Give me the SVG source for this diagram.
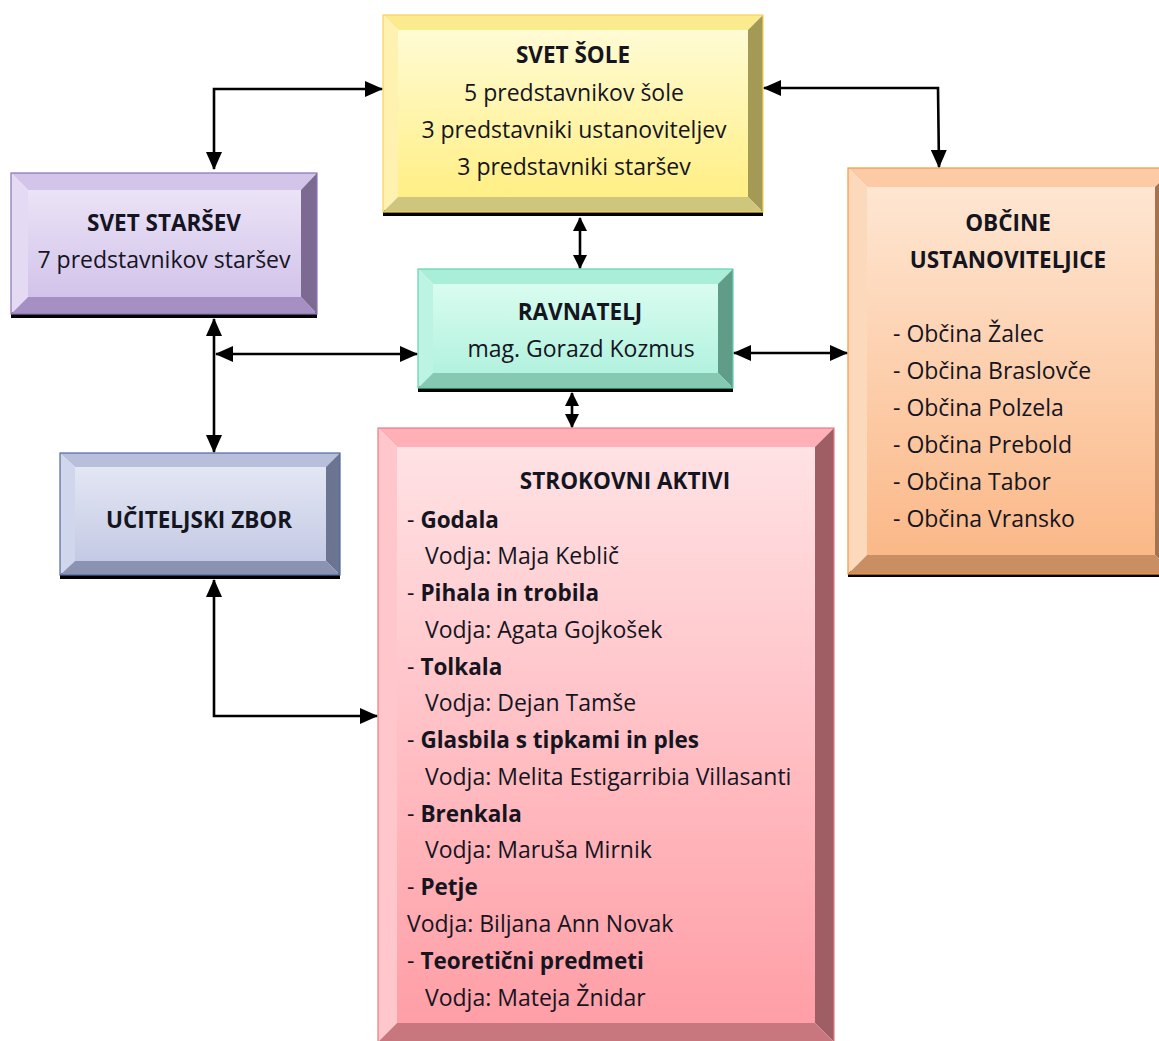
<svg xmlns="http://www.w3.org/2000/svg" width="1159" height="1041" viewBox="0 0 1159 1041">
<defs>
<style>
text{font-family:"Open Sans","Noto Sans",sans-serif;font-size:23px;fill:#15151f}
.b{font-weight:bold;font-size:22.5px}
.c{text-anchor:middle}
.conn{fill:none;stroke:#000;stroke-width:2.6}
.bar{fill:#000}
</style>
<marker id="ah" markerUnits="userSpaceOnUse" markerWidth="18" markerHeight="16" refX="17" refY="8" orient="auto-start-reverse" viewBox="0 0 18 16">
<path d="M0,0 L18,8 L0,16 Z" fill="#000"/>
</marker>
<marker id="as" markerUnits="userSpaceOnUse" markerWidth="14" markerHeight="14" refX="13" refY="7" orient="auto-start-reverse" viewBox="0 0 14 14">
<path d="M0,0 L14,7 L0,14 Z" fill="#000"/>
</marker>
<linearGradient id="gY" x1="0" y1="0" x2="0" y2="1"><stop offset="0" stop-color="#fffbd4"/><stop offset="1" stop-color="#ffef85"/></linearGradient>
<linearGradient id="gP" x1="0" y1="0" x2="0" y2="1"><stop offset="0" stop-color="#ebe3f6"/><stop offset="1" stop-color="#d2c3ea"/></linearGradient>
<linearGradient id="gO" x1="0" y1="0" x2="0" y2="1"><stop offset="0" stop-color="#fee6d2"/><stop offset="1" stop-color="#fbb888"/></linearGradient>
<linearGradient id="gT" x1="0" y1="0" x2="0" y2="1"><stop offset="0" stop-color="#d9fcf0"/><stop offset="1" stop-color="#b2f2de"/></linearGradient>
<linearGradient id="gB" x1="0" y1="0" x2="0" y2="1"><stop offset="0" stop-color="#e3e6f3"/><stop offset="1" stop-color="#c4cae4"/></linearGradient>
<linearGradient id="gR" x1="0" y1="0" x2="0" y2="1"><stop offset="0" stop-color="#ffe2e4"/><stop offset="1" stop-color="#ff9ea6"/></linearGradient>
</defs>
<rect width="1159" height="1041" fill="#fff"/>

<g id="svet-sole">
<rect class="bar" x="383" y="210" width="380" height="6"/>
<polygon points="383,15 763,15 748,30 398,30" fill="#fcea8e"/>
<polygon points="383,15 398,30 398,197 383,212" fill="#fff2b0"/>
<polygon points="763,15 748,30 748,197 763,212" fill="#a29a55"/>
<polygon points="383,212 763,212 748,197 398,197" fill="#cdc67c"/>
<rect x="398" y="30" width="350" height="167" fill="url(#gY)"/>
<rect x="383" y="15" width="380" height="197" fill="none" stroke="#f7d25a" stroke-width="1.2"/>
<text class="b c" x="573" y="63">SVET ŠOLE</text>
<text class="c" x="574" y="101">5 predstavnikov šole</text>
<text class="c" x="574" y="138">3 predstavniki ustanoviteljev</text>
<text class="c" x="574" y="175">3 predstavniki staršev</text>
</g>

<g id="svet-starsev">
<rect class="bar" x="11" y="312" width="306" height="6"/>
<polygon points="11,173 317,173 301,190 28,190" fill="#d3c5ea"/>
<polygon points="11,173 28,190 28,297 11,314" fill="#e4daf3"/>
<polygon points="317,173 301,190 301,297 317,314" fill="#7c6a93"/>
<polygon points="11,314 317,314 301,297 28,297" fill="#a690c3"/>
<rect x="28" y="190" width="273" height="107" fill="url(#gP)"/>
<rect x="11" y="173" width="306" height="141" fill="none" stroke="#8b73b6" stroke-width="1.2"/>
<text class="b c" x="164" y="231">SVET STARŠEV</text>
<text class="c" x="164" y="268">7 predstavnikov staršev</text>
</g>

<g id="obcine">
<rect class="bar" x="848" y="571" width="326" height="6"/>
<polygon points="848,168 1174,168 1155,187 867,187" fill="#fccba5"/>
<polygon points="848,168 867,187 867,555 848,574" fill="#fdd9bb"/>
<polygon points="1174,168 1155,187 1155,555 1174,574" fill="#a5734e"/>
<polygon points="848,574 1174,574 1155,555 867,555" fill="#c98f62"/>
<rect x="867" y="187" width="288" height="368" fill="url(#gO)"/>
<rect x="848" y="168" width="326" height="406" fill="none" stroke="#f79646" stroke-width="1.2"/>
<text class="b c" x="1008" y="231">OBČINE</text>
<text class="b c" x="1008" y="268">USTANOVITELJICE</text>
<text x="893" y="342">- Občina Žalec</text>
<text x="893" y="379">- Občina Braslovče</text>
<text x="893" y="416">- Občina Polzela</text>
<text x="893" y="453">- Občina Prebold</text>
<text x="893" y="490">- Občina Tabor</text>
<text x="893" y="527">- Občina Vransko</text>
</g>

<g id="ravnatelj">
<rect class="bar" x="418" y="386" width="315" height="6"/>
<polygon points="418,269 733,269 718,284 433,284" fill="#a9eed8"/>
<polygon points="418,269 433,284 433,373 418,388" fill="#bcf3e3"/>
<polygon points="733,269 718,284 718,373 733,388" fill="#5f9d89"/>
<polygon points="418,388 733,388 718,373 433,373" fill="#86c9b3"/>
<rect x="433" y="284" width="285" height="89" fill="url(#gT)"/>
<rect x="418" y="269" width="315" height="119" fill="none" stroke="#63d1b0" stroke-width="1.2"/>
<text class="b c" x="580" y="320">RAVNATELJ</text>
<text class="c" x="581" y="357">mag. Gorazd Kozmus</text>
</g>

<g id="uciteljski-zbor">
<rect class="bar" x="60" y="573" width="280" height="6"/>
<polygon points="60,453 340,453 326,467 75,467" fill="#b7bfdb"/>
<polygon points="60,453 75,467 75,561 60,575" fill="#d0d6eb"/>
<polygon points="340,453 326,467 326,561 340,575" fill="#6b7490"/>
<polygon points="60,575 340,575 326,561 75,561" fill="#8a93b1"/>
<rect x="75" y="467" width="251" height="94" fill="url(#gB)"/>
<rect x="60" y="453" width="280" height="122" fill="none" stroke="#4f6aa0" stroke-width="1.2"/>
<text class="b c" x="199" y="528">UČITELJSKI ZBOR</text>
</g>

<g id="strokovni-aktivi">
<polygon points="378,428 834,428 815,447 397,447" fill="#ffb0b6"/>
<polygon points="378,428 397,447 397,1023 378,1042" fill="#ffc7cb"/>
<polygon points="834,428 815,447 815,1023 834,1042" fill="#9f5e64"/>
<polygon points="378,1042 834,1042 815,1023 397,1023" fill="#c8777e"/>
<rect x="397" y="447" width="418" height="576" fill="url(#gR)"/>
<rect x="378" y="428" width="456" height="614" fill="none" stroke="#ea7c85" stroke-width="1.2"/>
<text class="b c" x="625" y="489">STROKOVNI AKTIVI</text>
<text x="407" y="528">- <tspan class="b">Godala</tspan></text>
<text x="425" y="564">Vodja: Maja Keblič</text>
<text x="407" y="601">- <tspan class="b">Pihala in trobila</tspan></text>
<text x="425" y="638">Vodja: Agata Gojkošek</text>
<text x="407" y="675">- <tspan class="b">Tolkala</tspan></text>
<text x="425" y="711">Vodja: Dejan Tamše</text>
<text x="407" y="748">- <tspan class="b">Glasbila s tipkami in ples</tspan></text>
<text x="425" y="785">Vodja: Melita Estigarribia Villasanti</text>
<text x="407" y="822">- <tspan class="b">Brenkala</tspan></text>
<text x="425" y="858">Vodja: Maruša Mirnik</text>
<text x="407" y="895">- <tspan class="b">Petje</tspan></text>
<text x="407" y="932">Vodja: Biljana Ann Novak</text>
<text x="407" y="969">- <tspan class="b">Teoretični predmeti</tspan></text>
<text x="425" y="1006">Vodja: Mateja Žnidar</text>
</g>

<g id="connectors">
<path class="conn" d="M214,169 L214,89 L382,89" marker-start="url(#ah)" marker-end="url(#ah)"/>
<path class="conn" d="M764,88 L938,88 L939,167" marker-start="url(#ah)" marker-end="url(#ah)"/>
<path class="conn" d="M580,218 L580,268" marker-start="url(#as)" marker-end="url(#as)"/>
<path class="conn" d="M572,393 L572,427" marker-start="url(#as)" marker-end="url(#as)"/>
<path class="conn" d="M214,319 L214,452" marker-start="url(#ah)" marker-end="url(#ah)"/>
<path class="conn" d="M216,354 L417,354" marker-start="url(#ah)" marker-end="url(#ah)"/>
<path class="conn" d="M734,353 L847,353" marker-start="url(#ah)" marker-end="url(#ah)"/>
<path class="conn" d="M214,580 L214,716 L377,716" marker-start="url(#ah)" marker-end="url(#ah)"/>
</g>
</svg>
